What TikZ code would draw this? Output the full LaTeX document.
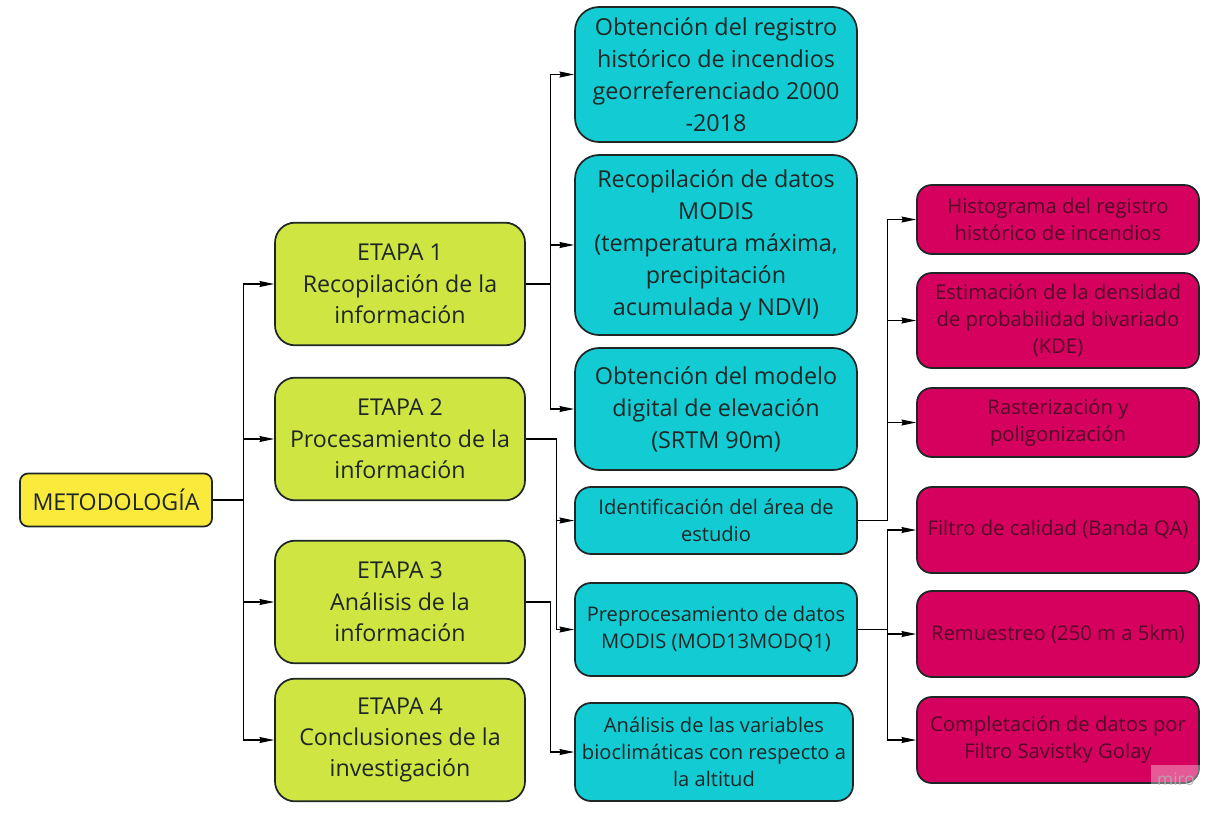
\documentclass[tikz,border=0pt]{standalone}
\usepackage{fontspec}
\setmainfont{Open Sans}
\usepackage{xcolor}
\usepackage{tikz}
\usetikzlibrary{arrows.meta, positioning}

\definecolor{rootyellow}{HTML}{FAEA3B}
\definecolor{stagelime}{HTML}{CEE542}
\definecolor{taskcyan}{HTML}{13CCD3}
\definecolor{stepmagenta}{HTML}{D6005E}
\definecolor{steptext}{HTML}{520A28}
\definecolor{inkdark}{HTML}{1E2626}

\begin{document}
\begin{tikzpicture}[
    x=0.75pt, y=-0.75pt,
    rootbox/.style={rectangle, rounded corners=6pt, draw=inkdark, fill=rootyellow, line width=1.3pt, minimum width=144pt, minimum height=39.75pt, align=center, text=inkdark, font=\fontsize{17.4}{22}\selectfont},
    stagebox/.style={rectangle, rounded corners=15pt, draw=inkdark, fill=stagelime, line width=1.3pt, minimum width=187.5pt, minimum height=92pt, align=center, text=inkdark, font=\fontsize{17.4}{23.5}\selectfont},
    taskbox/.style={rectangle, rounded corners=18pt, draw=inkdark, fill=taskcyan, line width=1.3pt, minimum width=211.5pt, align=center, text=inkdark, font=\fontsize{17.5}{24}\selectfont},
    smalltask/.style={taskbox, rounded corners=12pt, font=\fontsize{15.1}{20.3}\selectfont},
    stepbox/.style={rectangle, rounded corners=11pt, draw=inkdark, fill=stepmagenta, line width=1.3pt, minimum width=211.5pt, align=center, text=steptext, font=\fontsize{15.2}{20.3}\selectfont},
    arrow/.style={->, >={Stealth[length=11pt, width=4.5pt, inset=1pt]}, line width=0.8pt, draw=black}
]
\useasboundingbox (0,0) rectangle (1226,815);

% raiz y etapas
\node[rootbox] (meto) at (116,500) {METODOLOGÍA};
\node[stagebox] (e1) at (400,284) {ETAPA 1\\Recopilación de la\\información};
\node[stagebox] (e2) at (400,439) {ETAPA 2\\Procesamiento de la\\información};
\node[stagebox] (e3) at (400,602) {ETAPA 3\\Análisis de la\\información};
\node[stagebox] (e4) at (400,740) {ETAPA 4\\Conclusiones de la\\investigación};

% tareas
\node[taskbox, minimum height=101.25pt] (t1) at (716,74.5) {Obtención del registro\\histórico de incendios\\georreferenciado 2000\\-2018};
\node[taskbox, minimum height=135pt] (t2) at (716,245) {Recopilación de datos\\MODIS\\(temperatura máxima,\\precipitación\\acumulada y NDVI)};
\node[taskbox, minimum height=91.5pt] (t3) at (716,409) {Obtención del modelo\\digital de elevación\\(SRTM 90m)};
\node[smalltask, minimum height=50.25pt] (t4) at (716,520.5) {Identificación del área de\\estudio};
\node[smalltask, minimum height=69.75pt] (t5) at (716,629.5) {Preprocesamiento de datos\\MODIS (MOD13MODQ1)};
\node[smalltask, minimum width=208.5pt, minimum height=73.5pt] (t6) at (714,752) {Análisis de las variables\\bioclimáticas con respecto a\\la altitud};

% pasos
\node[stepbox, minimum height=51.75pt] (s1) at (1058,219.5) {Histograma del registro\\histórico de incendios};
\node[stepbox, minimum height=71.25pt] (s2) at (1058,320.5) {Estimación de la densidad\\de probabilidad bivariado\\(KDE)};
\node[stepbox, minimum height=51.75pt] (s3) at (1058,422.5) {Rasterización y\\poligonización};
\node[stepbox, minimum height=64.5pt] (s4) at (1058,530) {Filtro de calidad (Banda QA)};
\node[stepbox, minimum height=64.5pt] (s5) at (1058,634) {Remuestreo (250 m a 5km)};
\node[stepbox, minimum height=64.5pt] (s6) at (1058,740) {Completación de datos por\\Filtro Savistky Golay};

% conectores
\path (meto.east) ++(31,0) coordinate (bus0);
\path (e1.east) ++(25,0) coordinate (bus1);
\path (e2.east) ++(31,0) coordinate (bus2);
\path (e3.east) ++(25,0) coordinate (bus3);
\path (t4.east) ++(30,0) coordinate (bus4);
\path (t5.east) ++(30,0) coordinate (bus5);

\draw[arrow, -] (meto) -- (bus0);
\foreach \n in {e1,e2,e3,e4} \draw[arrow] (bus0) |- (\n.west);
\draw[arrow, -] (e1) -- (bus1);
\foreach \n in {t1,t2,t3} \draw[arrow] (bus1) |- (\n.west);
\draw[arrow, -] (e2) -- (bus2);
\foreach \n in {t4,t5} \draw[arrow] (bus2) |- (\n.west);
\draw[arrow, -] (e3) -- (bus3);
\draw[arrow] (bus3) |- (t6.west);
\draw[arrow, -] (t4) -- (bus4);
\foreach \n in {s1,s2,s3} \draw[arrow] (bus4) |- (\n.west);
\draw[arrow, -] (t5) -- (bus5);
\foreach \n in {s4,s5,s6} \draw[arrow] (bus5) |- (\n.west);

\node[fill=white, fill opacity=0.35, text=gray!60, text opacity=0.8, minimum width=37pt, minimum height=21pt, font=\fontsize{13}{13}\selectfont] (wm) at (1176,779) {miro};
\end{tikzpicture}
\end{document}
